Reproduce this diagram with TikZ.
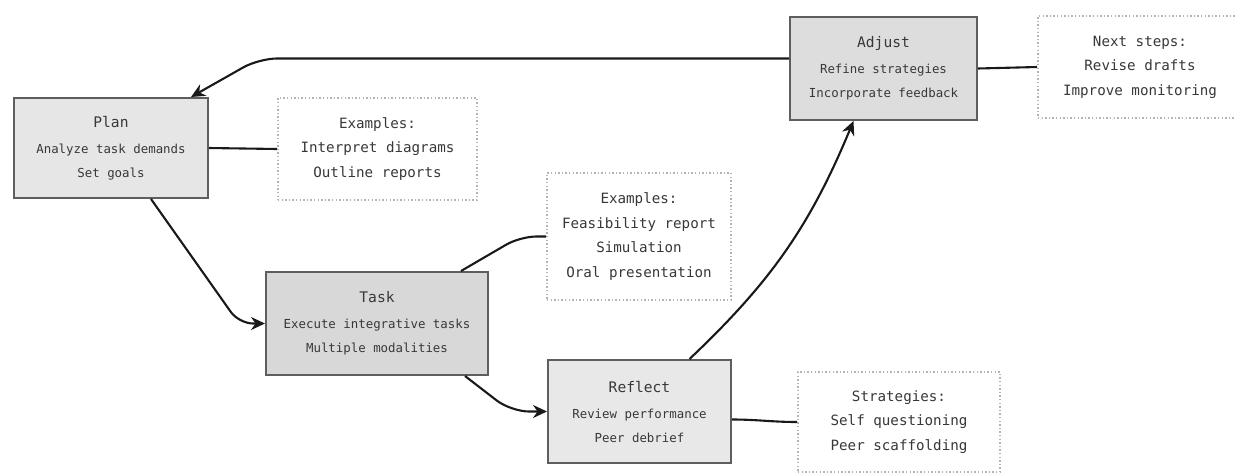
\documentclass[tikz,border=0pt]{standalone}
\usepackage{fontspec}
\setmonofont{DejaVu Sans Mono}
\usetikzlibrary{arrows.meta}

\definecolor{boxgray}{HTML}{5E5E5E}
\definecolor{dotgray}{HTML}{B4B4B4}
\definecolor{textgray}{HTML}{383838}
\definecolor{planfill}{HTML}{E6E6E6}
\definecolor{taskfill}{HTML}{D8D8D8}
\definecolor{reflectfill}{HTML}{E8E8E8}
\definecolor{adjustfill}{HTML}{DDDDDD}

\begin{document}
\begin{tikzpicture}[x=0.5pt,y=-0.5pt,
	stage/.style={draw=boxgray, line width=1pt, fill=#1, text=textgray, align=center,
		inner sep=0pt, font=\ttfamily\fontsize{6.2}{12}\selectfont},
	note/.style={draw=dotgray, dash pattern=on 0.7pt off 1.1pt, line width=0.8pt, fill=white,
		text=textgray, align=center, inner sep=0pt, font=\ttfamily\fontsize{7.1}{12.2}\selectfont},
	flow/.style={draw=black!90, line width=1.05pt, -{Stealth[length=7pt,width=6.5pt]}},
	link/.style={draw=black!90, line width=1.05pt}]
	\newcommand{\stagetitle}[1]{{\fontsize{7.3}{12}\selectfont #1}\\[1pt]}
	\useasboundingbox (0,0) rectangle (1235,472);
	% stages
	\node [stage=planfill, minimum width=97pt, minimum height=50pt] (plan) at (111,148)
		{\stagetitle{Plan}Analyze task demands\\Set goals};
	\node [stage=taskfill, minimum width=111pt, minimum height=51.5pt] (task) at (377,323.5)
		{\stagetitle{Task}Execute integrative tasks\\Multiple modalities};
	\node [stage=reflectfill, minimum width=91.5pt, minimum height=51.5pt] (reflect) at (639.5,411.5)
		{\stagetitle{Reflect}Review performance\\Peer debrief};
	\node [stage=adjustfill, minimum width=93.5pt, minimum height=51.5pt] (adjust) at (883.5,68.5)
		{\stagetitle{Adjust}Refine strategies\\Incorporate feedback};
	% notes
	\node [note, minimum width=99.5pt, minimum height=51pt] (examplesA) at (377.5,149)
		{Examples:\\Interpret diagrams\\Outline reports};
	\node [note, minimum width=92pt, minimum height=63.5pt] (examplesB) at (639,236.5)
		{Examples:\\Feasibility report\\Simulation\\Oral presentation};
	\node [note, minimum width=101pt, minimum height=50pt] (strategies) at (899,422)
		{Strategies:\\Self questioning\\Peer scaffolding};
	\node [note, minimum width=102pt, minimum height=51pt] (nextsteps) at (1140,67)
		{Next steps:\\Revise drafts\\Improve monitoring};
	% cycle
	\draw [flow, rounded corners=7pt] ([xshift=20pt]plan.south) -- ([xshift=-13pt]task.west) -- (task.west);
	\draw [flow, rounded corners=9pt] ([xshift=44pt]task.south) -- ([xshift=-18pt]reflect.west) -- (reflect.west);
	\draw [flow] ([xshift=25pt]reflect.north) to [bend right=12] ([xshift=-15pt]adjust.south);
	\draw [flow, rounded corners=9pt] ([yshift=5pt]adjust.west) -- ++(-530,0) -- ([xshift=40pt]plan.north);
	% links to notes
	\draw [link] (plan.east) -- (examplesA.west);
	\draw [link, rounded corners=8pt] ([xshift=42pt]task.north) -- ([xshift=-13pt]examplesB.west) -- (examplesB.west);
	\draw [link] ([yshift=-4pt]reflect.east) to [out=0, in=180] (strategies.west);
	\draw [link] (adjust.east) -- (nextsteps.west);
\end{tikzpicture}
\end{document}
